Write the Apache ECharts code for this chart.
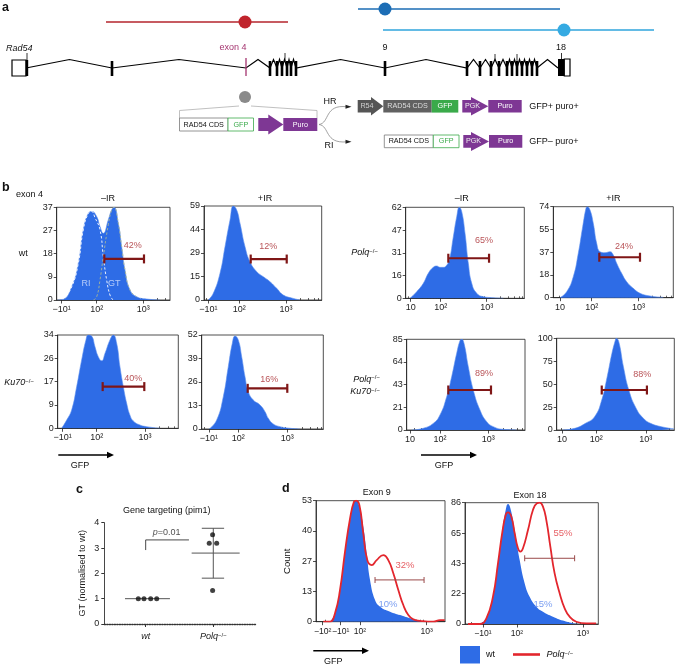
<!DOCTYPE html>
<html><head><meta charset="utf-8">
<script src="https://cdn.jsdelivr.net/npm/echarts@6/dist/echarts.min.js"></script>
<style>html,body{margin:0;padding:0;background:#fff}#c{width:675px;height:667px}</style>
</head><body><div id="c"></div><script>
const FF = '"Liberation Sans", Arial, Helvetica, sans-serif';
const BLUE = '#2e6ce6';
const GATE = '#7f1616';
const PCT = '#a8292e';
const RED = '#e3262d';

// ---------- tick labels ----------
const xLabNeg = ['−10¹', '10²', '10³'];
const xLabPos = ['10', '10²', '10³'];
const xLabD9 = ['−10²', '−10¹', '10²', '10³'];
const yLab_b1 = [0, 9, 18, 27, 37];
const yLab_b2 = [0, 15, 29, 44, 59];
const yLab_b3 = [0, 9, 17, 26, 34];
const yLab_b4 = [0, 13, 26, 39, 52];
const yLab_b5 = [0, 16, 31, 47, 62];
const yLab_b6 = [0, 18, 37, 55, 74];
const yLab_b7 = [0, 21, 43, 64, 85];
const yLab_b8 = [0, 25, 50, 75, 100];
const yLab_d9 = [0, 13, 27, 40, 53];
const yLab_d18 = [0, 22, 43, 65, 86];

// ---------- histograms: [display GFP (log-like units), count] ----------
const b_wt_noIR = [[1.16,0],[1.283,0.3],[1.464,5.3],[1.605,14.6],[1.712,28],[1.82,34.6],[1.893,35.3],[2.0,33.3],[2.071,29.3],[2.142,26.6],[2.249,32],[2.322,36],[2.371,37],[2.464,30.6],[2.536,21.3],[2.607,12],[2.715,4],[2.858,1.3],[3.073,0.4],[3.358,0]];
const b_wt_noIR_RI = [[1.283,0.3],[1.464,5.3],[1.605,14.6],[1.712,28],[1.82,34.6],[1.893,35.3],[1.96,33],[2.071,28],[2.142,17.3],[2.214,8],[2.285,2],[2.35,0]];
const b_wt_noIR_GT = [[1.93,0],[2.0,1.3],[2.071,8],[2.142,17.3],[2.249,30],[2.322,36],[2.371,37],[2.464,30.6],[2.536,21.3],[2.607,12],[2.715,4],[2.858,1.3]];
const b_wt_IR = [[1.336,0],[1.443,4.2],[1.587,16.8],[1.694,33.5],[1.801,50.2],[1.872,59],[1.944,56.5],[2.015,48.1],[2.122,33.5],[2.229,24],[2.373,17.8],[2.514,14.6],[2.657,11.5],[2.801,7.3],[2.942,3.1],[3.156,1],[3.3,0]];
const b_ku_noIR = [[1.275,0],[1.379,3.0],[1.482,6.7],[1.586,15.2],[1.689,24.9],[1.778,32.2],[1.826,34],[1.896,33.6],[1.965,29.7],[2.033,26.1],[2.104,24.6],[2.172,27.3],[2.275,32.2],[2.344,34],[2.414,31],[2.482,22.4],[2.551,15.2],[2.621,9.1],[2.689,4.8],[2.758,2.7],[2.896,1.2],[3.035,0.6],[3.311,0]];
const b_ku_IR = [[1.408,0],[1.559,5],[1.694,17.9],[1.796,34.5],[1.878,47.4],[1.933,51.4],[2.0,49.2],[2.069,40],[2.137,28.9],[2.204,20.6],[2.306,16],[2.443,13.3],[2.545,9.6],[2.612,5.9],[2.714,2.8],[2.851,1.3],[3.055,0.4],[3.259,0]];
const b_polq_noIR = [[1.333,0],[1.478,4.5],[1.622,10.2],[1.73,17],[1.839,21.1],[1.913,22],[1.985,21.1],[2.057,21.1],[2.115,22],[2.187,26.1],[2.274,42],[2.348,55.6],[2.404,62],[2.457,59],[2.528,44.3],[2.6,23.8],[2.674,10.2],[2.783,3.4],[2.926,1.1],[3.143,0.4],[3.361,0]];
const b_polq_IR = [[1.321,0],[1.465,4.9],[1.606,17.1],[1.713,36.1],[1.807,57.7],[1.878,72.7],[1.906,74],[1.964,71.3],[2.034,60.5],[2.107,44.2],[2.178,37.4],[2.285,36.6],[2.392,37.4],[2.463,34.7],[2.535,28],[2.642,19.8],[2.749,13],[2.891,7.6],[3.034,3.6],[3.248,1.4],[3.534,0.3]];
const b_pk_noIR = [[1.414,0],[1.654,1.6],[1.861,6.2],[2.0,14.1],[2.139,31.2],[2.242,50],[2.346,71.9],[2.414,83.7],[2.449,85],[2.497,81.2],[2.586,59.3],[2.689,37.5],[2.828,18.7],[2.967,7.8],[3.104,3.1],[3.311,0.6],[3.588,0]];
const b_pk_IR = [[1.309,0],[1.562,1.8],[1.781,7.3],[1.965,14.5],[2.109,32.7],[2.219,58.1],[2.315,83.6],[2.381,97.4],[2.403,100],[2.453,96.3],[2.547,69],[2.656,43.6],[2.803,23.7],[2.95,12.8],[3.094,7.3],[3.313,3.6],[3.57,1.2]];
const d9_wt = [[1.55,0],[1.625,3.7],[1.7,13.9],[1.775,30],[1.85,44.5],[1.91,52.6],[1.94,53],[1.99,50.4],[2.049,41.6],[2.1,30],[2.15,18.3],[2.225,9.5],[2.3,6.6],[2.45,4.4],[2.6,2.9],[2.75,1.5],[2.9,0.4],[3.1,0]];
const d9_polq = [[1.45,0],[1.55,0],[1.625,3.7],[1.7,13.9],[1.775,30.7],[1.85,45.1],[1.91,52.6],[1.94,53],[1.99,51.1],[2.049,38.7],[2.109,27],[2.175,24.8],[2.25,27],[2.349,29.2],[2.424,27],[2.499,21.2],[2.574,13.9],[2.649,7.3],[2.724,2.9],[2.799,1],[2.9,0.4],[3.099,0],[3.199,0.7],[3.27,0.7]];
const d18_wt = [[1.435,0],[1.536,4],[1.636,19.4],[1.712,43],[1.779,66.6],[1.829,80.8],[1.864,85],[1.9,82],[1.965,66.6],[2.041,45.4],[2.117,28.8],[2.192,19.4],[2.294,12.3],[2.394,8.7],[2.545,5.2],[2.697,2.4],[2.848,0.5],[2.95,0]];
const d18_polq = [[1.258,0],[1.435,0],[1.536,4],[1.636,19.4],[1.712,43],[1.779,65.4],[1.829,77.3],[1.864,79.2],[1.915,76.1],[1.965,64.3],[2.015,53.7],[2.052,51.3],[2.091,53.7],[2.167,66.6],[2.242,80.8],[2.303,85.6],[2.344,86],[2.394,83.2],[2.445,73.7],[2.506,54.8],[2.571,35.9],[2.647,21.8],[2.723,11.1],[2.798,5.2],[2.9,1.6],[3.052,0.5],[3.2,0.5]];

// ---------- gates [from, to, height] and percentages ----------
const gates = {b1:[2.163,3.015,16.4], b2:[2.244,3.015,25.7], b3:[2.124,2.986,15.2], b4:[2.192,3.0,22.5], b5:[2.165,3.05,27.3], b6:[2.163,3.034,32.9], b7:[2.172,3.056,37.5], b8:[2.109,3.022,43.6], d9:[2.225,2.96,18.3], d18:[2.117,2.874,46.6]};
const pcts = {b1:['42%',2.773,21.7], b2:['12%',2.621,33.5], b3:['40%',2.758,18.2], b4:['16%',2.633,27.5], b5:['65%',2.941,39.7], b6:['24%',2.692,41.5], b7:['89%',2.911,53.1], b8:['88%',2.928,60.2], d9:['32%',2.675,24.8], d18:['55%',2.697,64.3]};
const pctsWt = {d9:['10%',2.42,7.8], d18:['15%',2.394,14.2]};

// ---------- panel c ----------
const c_categories = ['wt', 'Polq'];
const c_wt = [[0.891,1],[0.975,1],[1.074,1],[1.163,1]];
const c_polq = [[1.99,3.52],[1.94,3.19],[2.05,3.19],[1.99,1.32]];
const c_mean_wt = [[0.694,1],[1.359,1]];
const c_mean_polq = [[1.68,2.8],[2.39,2.8]];
const c_sd_polq = [[2,1.81],[2,3.78]];
const c_cap_hi = [[1.83,3.78],[2.16,3.78]];
const c_cap_lo = [[1.83,1.81],[2.16,1.81]];
const c_bracket = [[1,2.92],[1,3.32],[1.64,3.32]];

const PLOTS = [
  {id:'b1', box:[56.7,207.3,113.3,92.7], xr:[1.142,3.573], xt:[1.249,2,3], xl:xLabNeg, yl:yLab_b1, fill:b_wt_noIR},
  {id:'b2', box:[204,206,117.7,94], xr:[1.244,3.764], xt:[1.336,2,3], xl:xLabNeg, yl:yLab_b2, fill:b_wt_IR},
  {id:'b3', box:[57.7,335,120.6,93.3], xr:[1.193,3.69], xt:[1.296,2,3], xl:xLabNeg, yl:yLab_b3, fill:b_ku_noIR},
  {id:'b4', box:[201.7,335,121.6,94], xr:[1.253,3.735], xt:[1.40,2,3], xl:xLabNeg, yl:yLab_b4, fill:b_ku_IR},
  {id:'b5', box:[405.7,207.3,118.6,91], xr:[1.239,3.816], xt:[1.348,2,3], xl:xLabPos, yl:yLab_b5, fill:b_polq_noIR},
  {id:'b6', box:[553.3,206.7,120,91], xr:[1.178,3.747], xt:[1.321,2,3], xl:xLabPos, yl:yLab_b6, fill:b_polq_IR},
  {id:'b7', box:[406.7,339.3,118.3,90.7], xr:[1.311,3.76], xt:[1.379,2,3], xl:xLabPos, yl:yLab_b7, fill:b_pk_noIR},
  {id:'b8', box:[556.7,338.3,117.6,91.7], xr:[1.199,3.575], xt:[1.308,2,3], xl:xLabPos, yl:yLab_b8, fill:b_pk_IR},
  {id:'d9', box:[316,500.7,129,121], xr:[1.34,3.274], xt:[1.441,1.711,2,3], xl:xLabD9, yl:yLab_d9, fill:d9_wt, line:d9_polq, name:'Count'},
  {id:'d18', box:[465,502.7,133.3,121.3], xr:[1.212,3.233], xt:[1.485,2,3], xl:xLabNeg, yl:yLab_d18, fill:d18_wt, line:d18_polq}
];

function minorTicks(lo, hi) {
  const out = [];
  for (let n = 1; n <= 3; n++) for (let k = 2; k <= 9; k++) {
    const u = n + Math.log10(k);
    if (u > lo + 0.02 && u < hi - 0.02) out.push(u);
  }
  return out;
}

const grids = [], xAxes = [], yAxes = [], series = [];
const txt = {fontFamily: FF, fontSize: 9, color: '#222', hideOverlap: false};
const SM = 0.5;

PLOTS.forEach((p, i) => {
  const isD = p.id[0] === 'd';
  const ymax = p.yl[4];
  const yPos = p.yl.map((_, j) => ymax * j / 4);
  grids.push({left:p.box[0], top:p.box[1], width:p.box[2], height:p.box[3], show:true, borderColor:'#222', borderWidth:0.8, backgroundColor:'#fff', containLabel:false, outerBoundsMode:'none'});
  xAxes.push({gridIndex:i, type:'value', min:p.xr[0], max:p.xr[1],
    axisLine:{show:true, onZero:false, lineStyle:{color:'#222', width:0.8}},
    axisTick:{show:true, customValues:p.xt, length:3.5, lineStyle:{color:'#222', width:0.8}},
    axisLabel:Object.assign({customValues:p.xt, margin:5, showMinLabel:true, showMaxLabel:true, formatter:(v) => {
      let b = 0; p.xt.forEach((t, j) => { if (Math.abs(t - v) < Math.abs(p.xt[b] - v)) b = j; }); return p.xl[b];
    }}, txt, isD ? {fontSize:8.6} : {}),
    splitLine:{show:false}});
  xAxes.push({gridIndex:i, type:'value', min:p.xr[0], max:p.xr[1],
    axisLine:{show:false}, axisLabel:{show:false}, splitLine:{show:false},
    axisTick:{show:true, customValues:minorTicks(p.xr[0], p.xr[1]), length:2, lineStyle:{color:'#222', width:0.7}}});
  yAxes.push({gridIndex:i, type:'value', min:0, max:ymax,
    name:p.name || '', nameLocation:'middle', nameGap:24, nameTextStyle:{fontFamily:FF, fontSize:9.5, color:'#111'},
    axisLine:{show:true, lineStyle:{color:'#222', width:0.8}},
    axisTick:{show:true, customValues:yPos, length:3, lineStyle:{color:'#222', width:0.8}},
    axisLabel:Object.assign({customValues:yPos, margin:4, formatter:(v) => String(p.yl[Math.round(v / ymax * 4)])}, txt),
    splitLine:{show:false}});
  const xi = 2 * i;
  series.push({type:'line', xAxisIndex:xi, yAxisIndex:i, data:p.fill, smooth:SM, symbol:'none',
    lineStyle:{width:isD ? 0 : 0.6, color:'#5b8ef0'}, areaStyle:{color:BLUE, opacity:1}, z:2, silent:true});
  if (p.line) series.push({type:'line', xAxisIndex:xi, yAxisIndex:i, data:p.line, smooth:SM, symbol:'none',
    lineStyle:{width:1.8, color:RED}, z:3, silent:true});
  const g = gates[p.id];
  series.push({type:'line', xAxisIndex:xi, yAxisIndex:i, data:[[g[0], g[2]], [g[1], g[2]]], symbol:'rect',
    symbolSize:isD ? [1, 6] : [2.2, 9], showSymbol:true,
    lineStyle:{width:isD ? 1 : 2.2, color:isD ? '#9a4a4a' : GATE}, itemStyle:{color:isD ? '#9a4a4a' : GATE}, z:4, silent:true});
  const pc = pcts[p.id];
  series.push({type:'scatter', xAxisIndex:xi, yAxisIndex:i, data:[[pc[1], pc[2]]], symbolSize:0.1, z:5, silent:true,
    label:{show:true, position:'inside', formatter:pc[0], fontFamily:FF, fontSize:isD ? 9.5 : 9, color:isD ? '#e0363c' : PCT}});
  if (pctsWt[p.id]) {
    const pw = pctsWt[p.id];
    series.push({type:'scatter', xAxisIndex:xi, yAxisIndex:i, data:[[pw[1], pw[2]]], symbolSize:0.1, z:5, silent:true,
      label:{show:true, position:'inside', formatter:pw[0], fontFamily:FF, fontSize:9.5, color:'#5a86ee'}});
  }
});

// component dashed outlines + labels in b1
series.push({type:'line', xAxisIndex:0, yAxisIndex:0, data:b_wt_noIR_RI, smooth:SM, symbol:'none',
  lineStyle:{width:0.9, color:'#ffffff', type:[2.5,2]}, z:3, silent:true});
series.push({type:'line', xAxisIndex:0, yAxisIndex:0, data:b_wt_noIR_GT, smooth:SM, symbol:'none',
  lineStyle:{width:0.9, color:'#a7b596', type:[2.5,2]}, z:3, silent:true});
series.push({type:'scatter', xAxisIndex:0, yAxisIndex:0, data:[[1.77,6.4],[2.378,6.4]], symbolSize:0.1, z:5, silent:true,
  label:{show:true, position:'inside', formatter:(d) => ['RI','GT'][d.dataIndex], fontFamily:FF, fontSize:9, color:'#d6e2ff'}});

// ---------- panel c ----------
const ci = PLOTS.length;
grids.push({left:104.3, top:522.7, width:152.4, height:101.3, containLabel:false, outerBoundsMode:'none'});
xAxes.push({gridIndex:ci, type:'value', min:0.388, max:2.642,
  axisLine:{show:true, lineStyle:{color:'#333', width:1.4, type:[1.2,1.3]}},
  axisTick:{show:true, customValues:[1,2], length:3, lineStyle:{color:'#333', width:1}}, splitLine:{show:false},
  axisLabel:{customValues:[1,2], margin:8, fontFamily:FF, fontSize:9, color:'#222',
    formatter:(v) => v < 1.5 ? '{i|' + c_categories[0] + '}' : '{i|' + c_categories[1] + '}{s|−/−}',
    rich:{i:{fontStyle:'italic', fontSize:9, fontFamily:FF, color:'#222'}, s:{fontSize:6, fontFamily:FF, color:'#222', verticalAlign:'top'}}}});
yAxes.push({gridIndex:ci, type:'value', min:0, max:4, interval:1,
  name:'GT (normalised to wt)', nameLocation:'middle', nameGap:17, nameTextStyle:{fontFamily:FF, fontSize:9, color:'#222'},
  axisLine:{show:true, lineStyle:{color:'#333', width:0.9}}, axisTick:{length:3, lineStyle:{color:'#333'}},
  axisLabel:{fontFamily:FF, fontSize:9, color:'#222', margin:5}, splitLine:{show:false}});
const cx = xAxes.length - 1;
const cLine = (data, extra) => Object.assign({type:'line', xAxisIndex:cx, yAxisIndex:ci, data, symbol:'none',
  lineStyle:{color:'#555', width:1}, z:3, silent:true}, extra || {});
series.push(cLine(c_mean_wt), cLine(c_mean_polq), cLine(c_sd_polq), cLine(c_cap_hi), cLine(c_cap_lo),
  cLine(c_bracket, {lineStyle:{color:'#333', width:0.9}}));
series.push({type:'scatter', xAxisIndex:cx, yAxisIndex:ci, data:c_wt, symbolSize:5, itemStyle:{color:'#111'}, z:4, silent:true});
series.push({type:'scatter', xAxisIndex:cx, yAxisIndex:ci, data:c_polq, symbolSize:5, itemStyle:{color:'#111'}, z:4, silent:true});
series.push({type:'scatter', xAxisIndex:cx, yAxisIndex:ci, data:[[1.31,3.61]], symbolSize:0.1, silent:true,
  label:{show:true, position:'inside', formatter:'{i|p}{n|=0.01}', rich:{i:{fontStyle:'italic', fontSize:9, fontFamily:FF, color:'#222'}, n:{fontSize:9, fontFamily:FF, color:'#222'}}}});

// ---------- graphics (panel a schematic and free labels) ----------
const G = [];
const T = (x, y, text, o) => G.push({type:'text', x, y, silent:true, style:Object.assign({text, fill:'#111', fontSize:9, fontFamily:FF, align:'center', verticalAlign:'middle'}, o || {})});
const L = (x1, y1, x2, y2, stroke, w) => G.push({type:'line', silent:true, shape:{x1, y1, x2, y2}, style:{stroke, lineWidth:w || 1}});
const R = (x, y, w, h, fill, stroke, lw) => G.push({type:'rect', silent:true, shape:{x, y, width:w, height:h}, style:{fill, stroke:stroke || null, lineWidth:lw || 0}});
const C = (cx, cy, r, fill) => G.push({type:'circle', silent:true, shape:{cx, cy, r}, style:{fill}});
const P = (pts, fill) => G.push({type:'polygon', silent:true, shape:{points:pts}, style:{fill}});
const SUP = {i:{fontStyle:'italic', fontSize:9, fontFamily:FF, fill:'#111'}, s:{fontSize:6, fontFamily:FF, fill:'#111', verticalAlign:'top'}};

// panel letters
[['a',2,8],['b',2,188],['c',76,490],['d',282,489]].forEach(([t,x,y]) => T(x, y, t, {fontWeight:'bold', fontSize:12.5, align:'left'}));

// probes
L(106,22,288,22,'#b5252d',1.5); C(245,22,6.5,'#c0242c');
L(358,9,560,9,'#1b6db4',1.5); C(385,9,6.5,'#1c6db5');
L(383,30,654,30,'#2fa4dc',1.5); C(564,30,6.5,'#35aae2');

// gene
T(6,48,'Rad54',{align:'left', fontStyle:'italic'});
T(233,48,'exon 4',{fill:'#a4346f'});
T(385,48,'9'); T(561,48,'18');
const exons = [27,112,246,270,277,282,287,291,296,385,467,480,491,499,507,512,517,522,527,532,537,558];
const genePts = [[26,68]];
for (let k = 1; k < exons.length; k++) { genePts.push([(exons[k-1] + exons[k]) / 2, 59.5]); genePts.push([exons[k], 68]); }
G.push({type:'polyline', silent:true, shape:{points:genePts}, style:{stroke:'#000', lineWidth:1.2, fill:null}});
R(12,60,14,16,'#fff','#000',1.2);
exons.forEach((x, k) => { if (k === 0 || k === 2 || k === exons.length - 1) return; R(x - 1.3, 61, 2.6, 15, '#000'); });
R(25.6,60,2.6,16,'#000'); L(27,53,27,60,'#000',0.8);
L(246,58,246,76,'#a4346f',1.3);
R(558,59,6.3,17,'#000'); R(564.3,59,5.7,17,'#fff','#000',1.2); L(561.5,53,561.5,59,'#000',0.8);
L(285,53,285,61,'#000',0.8); L(495,54,495,61,'#000',0.8); L(517,54,517,61,'#000',0.8);

// targeting construct
C(245,97,6,'#8a8a8a');
G.push({type:'polyline', silent:true, shape:{points:[[179.5,118],[179.5,110.5],[239,106]]}, style:{stroke:'#b0b0b0', lineWidth:0.8, fill:null}});
G.push({type:'polyline', silent:true, shape:{points:[[251,106],[317,110.5],[317,118]]}, style:{stroke:'#b0b0b0', lineWidth:0.8, fill:null}});
const PUR = '#7e3794', DG = '#616161', GR = '#3aaa4a';
const arrow = (x0, x1, x2, yc, h, hh, fill) => P([[x0,yc-h],[x1,yc-h],[x1,yc-hh],[x2,yc],[x1,yc+hh],[x1,yc+h],[x0,yc+h]], fill);
const small = {fontSize:7.2};
R(179.5,118,48.5,13,'#fff','#7a7a7a',0.8); T(203.7,124.6,'RAD54 CDS',small);
R(228,118,25.5,13,'#fff',GR,0.8); T(240.8,124.6,'GFP',Object.assign({fill:GR},small));
arrow(258.3,268.3,283.3,124.5,6.5,10,PUR);
R(283.3,118,34,13,PUR); T(300.3,124.6,'Puro',Object.assign({fill:'#fff'},small));

T(330,102,'HR'); T(329,146,'RI');
G.push({type:'bezierCurve', silent:true, shape:{x1:319,y1:124.5,cpx1:330,cpy1:123,cpx2:324,cpy2:104,x2:347,y2:106.8}, style:{stroke:'#8a8a8a', lineWidth:0.8, fill:null}});
G.push({type:'bezierCurve', silent:true, shape:{x1:319,y1:124.5,cpx1:330,cpy1:126,cpx2:324,cpy2:144,x2:347,y2:141.8}, style:{stroke:'#8a8a8a', lineWidth:0.8, fill:null}});
P([[345.5,104.8],[351.5,106.8],[345.5,108.8]],'#222'); P([[345.5,139.8],[351.5,141.8],[345.5,143.8]],'#222');

// HR product
arrow(357.7,371,383.3,106.3,6.3,9.3,'#555');
T(367,106.5,'R54',Object.assign({fill:'#cfcfcf'},small));
R(383.3,100,48.4,12.6,DG); T(407.5,106.5,'RAD54 CDS',Object.assign({fill:'#dedede'},small));
R(431.7,100,26.6,12.6,GR); T(445,106.5,'GFP',Object.assign({fill:'#fff'},small));
arrow(462.3,471,488.3,106.3,6.3,9.3,PUR); T(472.5,106.5,'PGK',Object.assign({fill:'#eee'},small));
R(488.3,100,33.4,12.6,PUR); T(505,106.5,'Puro',Object.assign({fill:'#fff'},small));
T(529.3,106.8,'GFP+ puro+',{align:'left', fontSize:9});

// RI product
R(384.3,135,49,12.7,'#fff','#7a7a7a',0.8); T(408.8,141.4,'RAD54 CDS',small);
R(433.3,135,25.7,12.7,'#fff',GR,0.8); T(446.2,141.4,'GFP',Object.assign({fill:GR},small));
arrow(463.3,471,489,141.4,6.35,9.5,PUR); T(473.5,141.4,'PGK',Object.assign({fill:'#eee'},small));
R(489,135,33.3,12.7,PUR); T(505.7,141.4,'Puro',Object.assign({fill:'#fff'},small));
T(529.3,142,'GFP– puro+',{align:'left', fontSize:9});

// panel b labels
T(16,195,'exon 4',{align:'left'});
T(108,198.5,'–IR'); T(265,198.5,'+IR'); T(461.7,198.5,'–IR'); T(613.3,198.5,'+IR');
T(23.3,254,'wt');
T(34,382.7,'{i|Ku70}{s|−/−}',{align:'right', rich:SUP});
T(378,252.7,'{i|Polq}{s|−/−}',{align:'right', rich:SUP});
T(380,379.3,'{i|Polq}{s|−/−}',{align:'right', rich:SUP});
T(380,391.7,'{i|Ku70}{s|−/−}',{align:'right', rich:SUP});
// GFP arrows
const gfpArrow = (x0, x1, y, tx, ty) => { L(x0, y, x1 - 5, y, '#000', 1.6); P([[x1-7,y-3.3],[x1,y],[x1-7,y+3.3]],'#000'); T(tx, ty, 'GFP'); };
gfpArrow(58.3,114,455,80,466); gfpArrow(421,477,455,444,466); gfpArrow(313.3,369,650.7,333.3,661.7);

// panel c / d titles and legend
T(166.7,510.7,'Gene targeting (pim1)');
T(376.7,492.7,'Exon 9'); T(530,496,'Exon 18');
R(460,646,20,17.5,BLUE);
T(486,654.5,'wt',{align:'left'});
L(513,654.5,540,654.5,RED,2.6);
T(546.5,654.5,'{i|Polq}{s|−/−}',{align:'left', rich:SUP});

const chart = echarts.init(document.getElementById('c'), null, {renderer:'canvas'});
chart.setOption({animation:false, backgroundColor:'#fff', grid:grids, xAxis:xAxes, yAxis:yAxes, series, graphic:G});
</script></body></html>
